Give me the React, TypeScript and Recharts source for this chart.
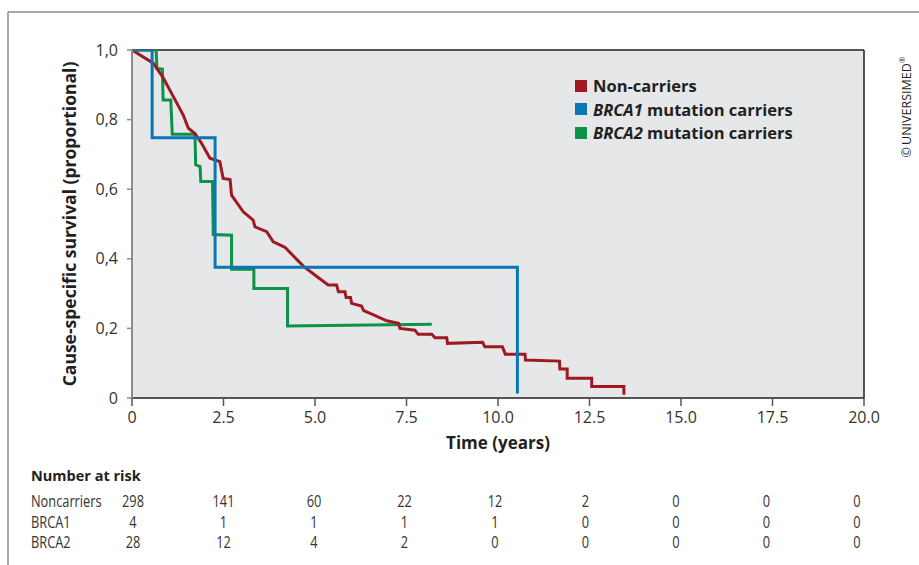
import React from 'react';
import { LineChart, Line, XAxis, YAxis, ReferenceArea, ReferenceLine, Legend } from 'recharts';

// Kaplan–Meier curves: [time (years), survival]
const nonCarriers: [number, number][] = [
  [0, 1.0], [0.58, 0.962], [0.86, 0.919], [1.13, 0.866], [1.4, 0.813], [1.54, 0.775],
  [1.72, 0.76], [1.9, 0.732], [2.13, 0.689], [2.4, 0.679], [2.49, 0.631], [2.68, 0.628],
  [2.72, 0.583], [3.04, 0.535], [3.31, 0.511], [3.36, 0.492], [3.68, 0.478], [3.86, 0.449],
  [4.18, 0.433], [4.68, 0.379], [5.05, 0.349], [5.36, 0.325], [5.59, 0.325], [5.64, 0.305],
  [5.82, 0.305], [5.85, 0.289], [5.97, 0.289], [6.0, 0.272], [6.27, 0.264], [6.33, 0.251],
  [6.6, 0.239], [6.96, 0.222], [7.28, 0.215], [7.32, 0.2], [7.73, 0.195], [7.82, 0.183],
  [8.19, 0.183], [8.28, 0.173], [8.6, 0.173], [8.62, 0.157], [9.58, 0.16], [9.64, 0.147],
  [10.12, 0.147], [10.2, 0.126], [10.74, 0.126], [10.75, 0.109], [11.68, 0.106], [11.69, 0.083],
  [11.89, 0.083], [11.89, 0.057], [12.56, 0.057], [12.56, 0.033], [13.44, 0.033], [13.44, 0.009],
];
const brca1: [number, number][] = [
  [0, 1.0], [0.55, 1.0], [0.55, 0.748], [2.27, 0.748], [2.27, 0.376], [10.53, 0.376], [10.53, 0.013],
];
const brca2: [number, number][] = [
  [0, 1.0], [0.66, 1.0], [0.68, 0.947], [0.83, 0.945], [0.85, 0.856], [1.06, 0.856],
  [1.1, 0.758], [1.72, 0.758], [1.74, 0.67], [1.86, 0.665], [1.88, 0.622], [2.2, 0.622],
  [2.22, 0.47], [2.72, 0.468], [2.72, 0.37], [3.33, 0.37], [3.33, 0.315], [4.25, 0.315],
  [4.25, 0.207], [8.19, 0.212],
];

const xTicks = [0, 2.5, 5, 7.5, 10, 12.5, 15, 17.5, 20];
const yTicks = [0, 0.2, 0.4, 0.6, 0.8, 1];

const riskTitle = 'Number at risk';
const riskLabels = ['Noncarriers', 'BRCA1', 'BRCA2'];
const riskNon = [298, 141, 60, 22, 12, 2, 0, 0, 0];
const riskB1 = [4, 1, 1, 1, 1, 0, 0, 0, 0];
const riskB2 = [28, 12, 4, 2, 0, 0, 0, 0, 0];

const COLORS = { non: '#9e1a20', b1: '#0a76b7', b2: '#0e9148' };
const FONT = '"Open Sans", "Noto Sans", sans-serif';

const toPts = (a: [number, number][]) => a.map(([t, s]) => ({ t, s }));

const legendItems = [
  { color: COLORS.non, italic: '', rest: 'Non-carriers' },
  { color: COLORS.b1, italic: 'BRCA1', rest: ' mutation carriers' },
  { color: COLORS.b2, italic: 'BRCA2', rest: ' mutation carriers' },
];

const renderLegend = () => (
  <div style={{ fontFamily: FONT, fontWeight: 700, fontSize: 16.5, color: '#231f20' }}>
    {legendItems.map((it, i) => (
      <div key={i} style={{ display: 'flex', alignItems: 'center', height: 23.5, whiteSpace: 'pre' }}>
        <span style={{ display: 'inline-block', width: 12, height: 12, background: it.color, marginRight: 6 }} />
        <span>
          {it.italic ? <i>{it.italic}</i> : null}
          {it.rest}
        </span>
      </div>
    ))}
  </div>
);

const fmtY = (v: number) => (v === 0 ? '0' : v.toFixed(1).replace('.', ','));
const fmtX = (v: number) => (v === 0 ? '0' : v.toFixed(1));

const SX = 0.8;

export default function App() {
  const rows = [riskNon, riskB1, riskB2];
  return (
    <div style={{ position: 'absolute', left: 0, top: 0, width: 919, height: 565, background: '#fff' }}>
      <svg width={919} height={565} style={{ position: 'absolute', left: 0, top: 0 }}>
        <line x1={8} y1={12} x2={919} y2={12} stroke="#8a8a8a" strokeWidth={1.5} />
        <line x1={8} y1={12} x2={8} y2={565} stroke="#8a8a8a" strokeWidth={1.5} />
        <text x={31} y={481} fontFamily={FONT} fontWeight={700} fontSize={14.5} fill="#231f20">{riskTitle}</text>
        {riskLabels.map((lab, r) => {
          const y = 507 + r * 20.5;
          return (
            <g key={lab}>
              <text transform={`translate(31 ${y}) scale(${SX} 1)`} fontFamily={FONT} fontSize={16} fill="#333">{lab}</text>
              {rows[r].map((v, i) => (
                <text
                  key={i}
                  transform={`translate(${133 + i * 90.5} ${y}) scale(${SX} 1)`}
                  textAnchor="middle"
                  fontFamily={FONT}
                  fontSize={16}
                  fill="#333"
                >
                  {v}
                </text>
              ))}
            </g>
          );
        })}
        <text
          x={906}
          y={107}
          transform="rotate(-90 906 107)"
          textAnchor="middle"
          dominantBaseline="central"
          fontFamily={FONT}
          fontSize={12.5}
          fill="#231f20"
        >
          {'\u00A9\u2009UNIVERSIMED'}
          <tspan dy={-5} fontSize={8}>{'\u00AE'}</tspan>
        </text>
      </svg>
      <div style={{ position: 'absolute', left: 0, top: 0 }}>
        <LineChart width={919} height={565} margin={{ top: 50, right: 55, bottom: 137, left: 8 }}>
          <XAxis
            type="number"
            dataKey="t"
            domain={[0, 20]}
            ticks={xTicks}
            tickFormatter={fmtX}
            height={30}
            allowDataOverflow
            axisLine={{ stroke: '#231f20', strokeWidth: 1.5 }}
            tickLine={{ stroke: '#555', strokeWidth: 1.5 }}
            tickSize={8}
            tickMargin={6}
            tick={{ fontFamily: FONT, fontSize: 16, fill: '#333' }}
            label={{ value: 'Time (years)', position: 'bottom', offset: 9, style: { fontFamily: FONT, fontWeight: 700, fontSize: 17, fill: '#231f20' } }}
          />
          <YAxis
            type="number"
            dataKey="s"
            domain={[0, 1]}
            ticks={yTicks}
            tickFormatter={fmtY}
            width={124}
            allowDataOverflow
            axisLine={{ stroke: '#8c8c8c', strokeWidth: 2 }}
            tickLine={{ stroke: '#8c8c8c', strokeWidth: 1.5 }}
            tickSize={5}
            tickMargin={9}
            tick={{ fontFamily: FONT, fontSize: 16, fill: '#333' }}
            label={{ value: 'Cause-specific survival (proportional)', angle: -90, position: 'center', style: { fontFamily: FONT, fontWeight: 700, fontSize: 17.5, fill: '#231f20', textAnchor: 'middle' } }}
          />
          <ReferenceArea x1={0} x2={20} y1={0} y2={1} fill="#e6e7e8" fillOpacity={1} stroke="none" />
          <ReferenceLine y={1} stroke="#231f20" strokeWidth={1.5} />
          <ReferenceLine x={20} stroke="#231f20" strokeWidth={1.5} />
          <Legend
            layout="vertical"
            align="center"
            verticalAlign="middle"
            wrapperStyle={{ left: 575, top: 74, width: 260 }}
            content={renderLegend}
          />
          <Line data={toPts(brca2)} dataKey="s" type="linear" stroke={COLORS.b2} strokeWidth={3} dot={false} isAnimationActive={false} />
          <Line data={toPts(nonCarriers)} dataKey="s" type="linear" stroke={COLORS.non} strokeWidth={3} dot={false} isAnimationActive={false} />
          <Line data={toPts(brca1)} dataKey="s" type="linear" stroke={COLORS.b1} strokeWidth={3} dot={false} isAnimationActive={false} />
        </LineChart>
      </div>
    </div>
  );
}
